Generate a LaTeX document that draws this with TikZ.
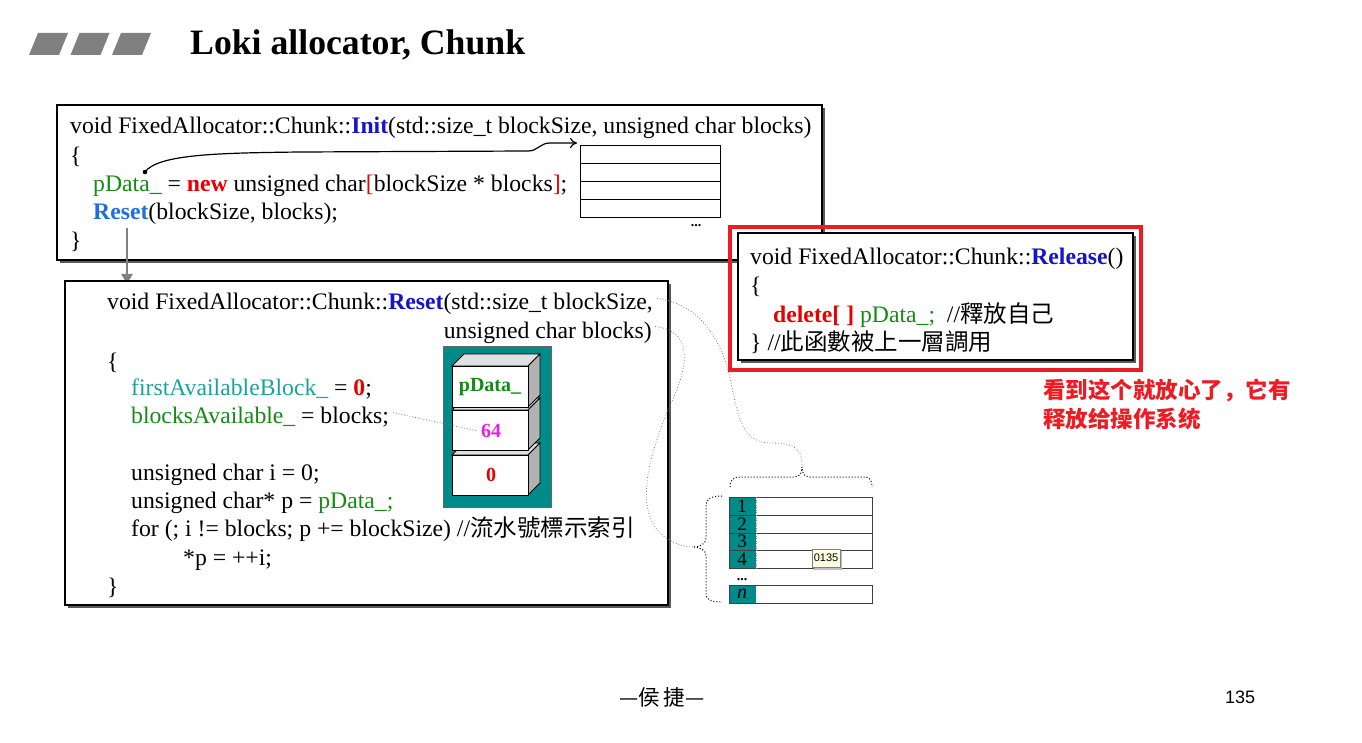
\documentclass[tikz,border=0pt]{standalone}
\usepackage{fontspec}
\setmainfont{Liberation Serif}
\newfontfamily\cjk{Noto Sans CJK TC}
\newfontfamily\cjksc{Noto Sans CJK SC}
\newfontfamily\sansf{Liberation Sans}
\usetikzlibrary{arrows.meta}
\definecolor{cgreen}{RGB}{20,140,20}
\definecolor{cblue}{RGB}{20,20,200}
\definecolor{clblue}{RGB}{30,110,225}
\definecolor{cred}{RGB}{230,0,0}
\definecolor{cteal}{RGB}{30,160,160}
\definecolor{tealbox}{RGB}{0,139,139}
\definecolor{cmag}{RGB}{230,30,230}
\definecolor{rrect}{RGB}{237,28,36}
\definecolor{bargray}{RGB}{128,128,128}
\definecolor{shadowgray}{RGB}{90,90,90}
\definecolor{tipyellow}{RGB}{255,255,225}
\newcommand{\codefont}{\fontsize{23.7}{27}\selectfont}
\newcommand{\cjkc}{\cjk\fontsize{23.5}{26}\selectfont}
\tikzset{
  code/.style={anchor=base west, inner sep=0pt, font=\codefont},
  codeR/.style={anchor=base east, inner sep=0pt, font=\codefont},
  frame/.style={draw=black, line width=1.5pt, fill=white},
  shadowbox/.style={fill=shadowgray},
  dotcurve/.style={draw=gray, dotted, line width=0.8pt},
  bracestyle/.style={draw=black, dotted, line width=1pt},
  cell/.style={draw=black!75, line width=0.8pt},
  blocklabel/.style={inner sep=0pt, font=\fontsize{20}{22}\selectfont\bfseries},
  numlabel/.style={inner sep=0pt, font=\fontsize{19}{19}\selectfont},
}
\begin{document}
\begin{tikzpicture}[x=1pt,y=-1pt]
\useasboundingbox (0,0) rectangle (1362,743);
\fill[white] (0,0) rectangle (1362,743);

% title bars
\foreach \i in {0,1,2}{
  \pgfmathsetmacro{\xo}{29+41.5*\i}
  \fill[bargray] (\xo,55) -- (\xo+9,33) -- (\xo+39,33) -- (\xo+30,55) -- cycle;
}
\node[anchor=base west, inner sep=0pt, font=\fontsize{35.7}{40}\selectfont\bfseries] (title) at (190,55) {Loki allocator, Chunk};

% ---------- Init box ----------
\fill[shadowbox] (60,108) rectangle (825,263);
\draw[frame] (57,105) rectangle (822,260);
\node[code] (i1) at (70,134) {void FixedAllocator::Chunk::\textcolor{cblue}{\textbf{Init}}(std::size\_t blockSize, unsigned char blocks)};
\node[code] (i2) at (70,164) {\{};
\node[code] (i3) at (93,192) {\textcolor{cgreen}{pData\_} = \textcolor{cred}{\textbf{new}} unsigned char\textcolor{cred}{[}blockSize * blocks\textcolor{cred}{]};};
\node[code] (i4) at (93,220) {\textcolor{clblue}{\textbf{Reset}}(blockSize, blocks);};
\node[code] (i5) at (70,249) {\}};

% small memory array
\node[draw=black, line width=0.8pt, fill=white, minimum width=140pt, minimum height=72pt, inner sep=0pt, anchor=north west] (arr1) at (580,145) {};
\foreach \yy in {163,181,199}{ \draw[line width=0.8pt] (580,\yy) -- (720,\yy); }
\node[anchor=base, inner sep=0pt, font=\fontsize{14}{14}\selectfont\bfseries] (dots1) at (696,227) {...};

% curved pointer arrow
\coordinate (pd) at (145,172);
\fill (pd) circle (2.3pt);
\draw[line width=1.2pt, -{To[length=7pt,width=10pt]}] (pd) .. controls (158,154) and (220,153) .. (300,152) -- (528,151) .. controls (538,151) and (540,143) .. (550,143) -- ([xshift=-3pt,yshift=2pt]arr1.north west);

% gray call arrow
\coordinate (callstart) at (127,228);
\coordinate (callend) at (127,284);
\draw[bargray, line width=2.5pt, -{Triangle[width=11pt,length=10pt]}] (callstart) -- (callend);

% ---------- Reset box ----------
\fill[shadowbox] (68,284) rectangle (671,608);
\draw[frame] (65,281) rectangle (668,605);
\node[code] (r1) at (107,309) {void FixedAllocator::Chunk::\textcolor{cblue}{\textbf{Reset}}(std::size\_t blockSize,};
\node[codeR] (r2) at (652,338) {unsigned char blocks)};
\node[code] (r3) at (107,369) {\{};
\node[code] (r4) at (131,395) {\textcolor{cteal}{firstAvailableBlock\_} = \textcolor{cred}{\textbf{0}};};
\node[code] (r5) at (131,423) {\textcolor{cgreen}{blocksAvailable\_} = blocks;};
\node[code] (r6) at (131,480) {unsigned char i = 0;};
\node[code] (r7) at (131,508) {unsigned char* p = \textcolor{cgreen}{pData\_;}};
\node[code] (r8) at (131,536) {for (; i != blocks; p += blockSize) //{\cjkc 流水號標示索引}};
\node[code] (r9) at (183,565) {*p = ++i;};
\node[code] (r10) at (107,594) {\}};

% teal chunk picture
\fill[tealbox] (443,346) rectangle (551,507);
\draw[black!60, line width=0.8pt] (443,346) rectangle (551,507);
\foreach \t/\b in {455/495, 410/450, 366/407}{
  \filldraw[fill=black!12, draw=black, line width=0.8pt] (452,\t) -- (464,\t-12) -- (540,\t-12) -- (528,\t) -- cycle;
  \filldraw[fill=black!30, draw=black, line width=0.8pt] (528,\t) -- (540,\t-12) -- (540,\b-12) -- (528,\b) -- cycle;
  \filldraw[fill=white, draw=black, line width=0.8pt] (452,\t) rectangle (528,\b);
}
\node[blocklabel, text=cgreen] (bk1) at (490,387) {pData\_};
\node[blocklabel, text=cmag] (bk2) at (491,431) {64};
\node[blocklabel, text=cred] (bk3) at (491,475) {0};
\draw[dotcurve] ([xshift=4pt,yshift=4pt]r5.east) -- ([xshift=-3pt]bk2.west);

% ---------- Release box ----------
\draw[rrect, line width=4pt] (730,227) rectangle (1141,370);
\fill[shadowbox] (741,236) rectangle (1136,363);
\draw[frame] (738,233) rectangle (1133,360);
\node[code] (l1) at (750,265) {void FixedAllocator::Chunk::\textcolor{cblue}{\textbf{Release}}()};
\node[code] (l2) at (750,294) {\{};
\node[code] (l3) at (773,322) {\textcolor{cred}{\textbf{delete[ ]}} \textcolor{cgreen}{pData\_;}\ \ //{\cjkc 釋放自己}};
\node[code] (l4) at (750,350) {\} //{\cjkc 此函數被上一層調用}};

% red note
\node[anchor=base west, inner sep=0pt, text=rrect, font=\cjksc\fontsize{22.5}{26}\selectfont\bfseries] (note1) at (1043,398) {看到这个就放心了，它有};
\node[anchor=base west, inner sep=0pt, text=rrect, font=\cjksc\fontsize{22.5}{26}\selectfont\bfseries] (note2) at (1043,427) {释放给操作系统};

% ---------- block list ----------
\foreach \t/\b/\n in {497/515/1, 515/533/2, 533/550/3, 550/568/4}{
  \fill[tealbox] (729,\t) rectangle (756,\b);
  \draw[cell] (729,\t) rectangle (872,\b);
  \draw[black!40, dotted, line width=0.5pt] (756,\t) -- (756,\b);
}
\foreach \c/\n in {506/1, 524/2, 541/3, 559/4}{
  \node[numlabel] (num\n) at (742,\c) {\n};
}
\node[anchor=base, inner sep=0pt, font=\fontsize{14}{14}\selectfont\bfseries] (dots2) at (742,580) {...};
\fill[tealbox] (729,585) rectangle (756,603);
\draw[cell] (729,585) rectangle (872,603);
\node[numlabel, font=\fontsize{20}{20}\selectfont\itshape] (numn) at (742,594) {n};

% tooltip
\fill[black!25] (814,551) rectangle (842,570);
\node[draw=black!50, fill=tipyellow, line width=0.6pt, minimum width=28pt, minimum height=18pt, inner sep=0pt, font=\sansf\fontsize{11}{11}\selectfont] (tip) at (826,558) {0135};

% braces
\coordinate (tb) at (802,467);
\coordinate (lb) at (693,547);
\draw[bracestyle] (730,487) .. controls (730,480) and (733,477) .. (740,477) -- (794,477) .. controls (800,477) and (802,473) .. (tb) .. controls (802,473) and (804,477) .. (810,477) -- (864,477) .. controls (870,477) and (872,480) .. (872,487);
\draw[bracestyle] (722,496) .. controls (711,496) and (706,499) .. (706,505) -- (706,538) .. controls (706,544) and (700,547) .. (lb) .. controls (700,547) and (706,550) .. (706,556) -- (706,594) .. controls (706,600) and (711,602) .. (722,602);

% dotted leader curves
\draw[dotcurve] ([xshift=4pt,yshift=5pt]r1.east) .. controls (690,303) and (715,325) .. (728,370) .. controls (738,410) and (738,442) .. (770,443) .. controls (800,443) and (802,452) .. (tb);
\draw[dotcurve] ([xshift=3pt,yshift=6pt]r2.east) .. controls (685,330) and (692,352) .. (676,392) .. controls (652,445) and (632,505) .. (660,533) .. controls (670,543) and (684,547) .. (lb);

% footer
\node[inner sep=0pt, font=\cjk\fontsize{21.5}{24}\selectfont] (author) at (662,697) {—侯\,捷—};
\node[inner sep=0pt, font=\sansf\fontsize{18}{20}\selectfont] (page) at (1240,697) {135};
\end{tikzpicture}
\end{document}
